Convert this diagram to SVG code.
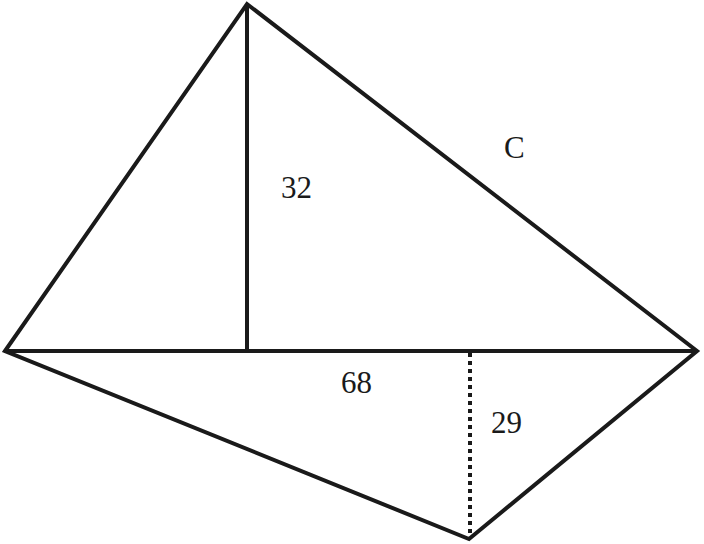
<svg xmlns="http://www.w3.org/2000/svg" width="704" height="544" viewBox="0 0 704 544">
<style>
.ln{fill:none;stroke:#1a1a1a;stroke-width:4;stroke-linejoin:miter;stroke-miterlimit:20}
.dot{fill:none;stroke:#1a1a1a;stroke-width:4;stroke-dasharray:4 4}
.lb{font-family:"Liberation Serif","Times New Roman",serif;font-size:31px;fill:#1a1a1a}
</style>
<rect width="704" height="544" fill="#fff"/>
<g id="edges">
<polygon class="ln" points="5,351 247,4 697,351 469,539"/>
<line class="ln" x1="5" y1="351" x2="697" y2="351"/>
<line class="ln" x1="247" y1="4" x2="247" y2="351"/>
<line class="dot" x1="470" y1="353" x2="470" y2="537"/>
</g>
<g id="labels">
<text class="lb" x="281" y="198">32</text>
<text class="lb" x="504" y="158" font-size="28">C</text>
<text class="lb" x="341" y="393">68</text>
<text class="lb" x="491" y="433">29</text>
</g>
</svg>
